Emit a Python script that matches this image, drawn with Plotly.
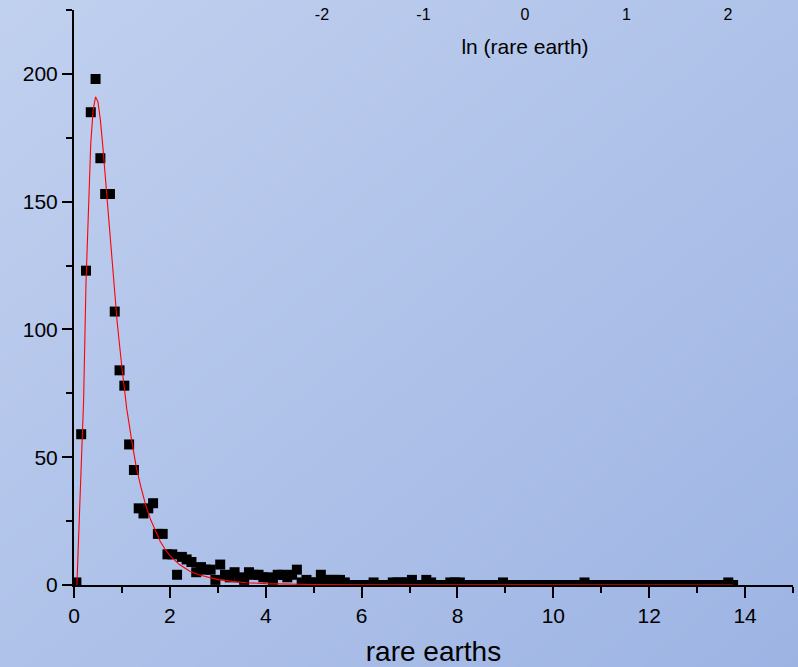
import plotly.graph_objects as go

# ---- data ----
bin_x = [round(0.05 + 0.1 * i, 2) for i in range(138)]
counts = [
    1, 59, 123, 185, 198, 167, 153, 153, 107, 84,
    78, 55, 45, 30, 28, 30, 32, 20, 20, 12,
    12, 4, 11, 10, 9, 5, 7, 6, 6, 2,
    8, 4, 3, 5, 3, 2, 5, 4, 4, 3,
    3, 2, 4, 4, 3, 4, 6, 1, 2, 1,
    1, 4, 2, 2, 2, 2, 1, 0, 0, 0,
    0, 0, 1, 0, 0, 0, 1, 1, 1, 1,
    2, 0, 0, 2, 1, 0, 0, 0, 1, 1,
    1, 0, 0, 0, 0, 0, 0, 0, 0, 1,
    0, 0, 0, 0, 0, 0, 0, 0, 0, 0,
    0, 0, 0, 0, 0, 0, 1, 0, 0, 0,
    0, 0, 0, 0, 0, 0, 0, 0, 0, 0,
    0, 0, 0, 0, 0, 0, 0, 0, 0, 0,
    0, 0, 0, 0, 0, 0, 1, 0,
]

fit_x = [0.06, 0.1, 0.15, 0.2, 0.25, 0.3, 0.35, 0.4, 0.45, 0.5, 0.55, 0.6,
         0.7, 0.8, 0.9, 1.0, 1.1, 1.2, 1.3, 1.4, 1.5, 1.6, 1.7, 1.8, 1.9,
         2.0, 2.2, 2.4, 2.6, 2.8, 3.0, 3.3, 3.6, 4.0, 4.5, 5.0, 6.0, 7.0,
         8.0, 10.0, 12.0, 13.75]
fit_y = [0, 20, 44, 72, 118, 150, 173, 186, 191, 189, 182, 172,
         148, 124, 103, 85, 69, 57, 46, 38, 31, 25.5, 21, 17, 14,
         11.5, 8, 5.6, 4, 2.9, 2.1, 1.4, 0.9, 0.55, 0.3, 0.17, 0.06, 0.02,
         0.01, 0, 0, 0]

x_ticks = [0, 2, 4, 6, 8, 10, 12, 14]
y_ticks = [0, 50, 100, 150, 200]
ln_ticks = [-2, -1, 0, 1, 2]
ln_labels = ["-2", "-1", "0", "1", "2"]

# background gradient (top-left light -> bottom-right darker)
bg_x = [-0.2, 1.2]
bg_y = [-0.2, 1.2]
bg_z = [[1.0, 2.0], [0.0, 1.0]]

W, H = 798, 667
FONT = "Liberation Sans, Arial, sans-serif"

def px_x(p):
    return p / W

def px_y(p):
    return 1 - p / H

fig = go.Figure()

fig.add_trace(go.Heatmap(
    z=bg_z, x=bg_x, y=bg_y, xaxis="x", yaxis="y",
    colorscale=[[0, "#c8d6f1"], [1, "#96aee1"]],
    showscale=False, zsmooth="best", hoverinfo="skip",
))

fig.add_trace(go.Scatter(
    x=bin_x, y=counts, mode="markers", xaxis="x2", yaxis="y2",
    marker=dict(symbol="square", size=10, color="black", line=dict(width=0)),
    showlegend=False,
))

fig.add_trace(go.Scatter(
    x=fit_x, y=fit_y, mode="lines", xaxis="x2", yaxis="y2",
    line=dict(color="red", width=1.1), showlegend=False,
))

fig.add_trace(go.Scatter(
    x=[], y=[], xaxis="x3", yaxis="y2", showlegend=False,
))

fig.update_layout(
    width=W, height=H, autosize=False,
    margin=dict(l=0, r=0, t=0, b=0, pad=0),
    paper_bgcolor="#b0c4ea",
    plot_bgcolor="rgba(0,0,0,0)",
    font=dict(family=FONT, color="black"),
    xaxis=dict(domain=[0, 1], range=[0, 1], visible=False, fixedrange=True),
    yaxis=dict(domain=[0, 1], range=[0, 1], visible=False, fixedrange=True),
    xaxis2=dict(
        domain=[px_x(74), px_x(793)], range=[0, 15], anchor="y2",
        automargin=False,
        showline=True, linecolor="black", linewidth=2,
        showgrid=False, zeroline=False,
        tickmode="array", tickvals=x_ticks,
        ticks="outside", ticklen=11, tickwidth=2, tickcolor="black",
        minor=dict(dtick=1, tick0=0, ticks="outside", ticklen=6, tickwidth=2,
                   tickcolor="black", showgrid=False),
        tickfont=dict(size=21),
        title=dict(text="rare earths", font=dict(size=28), standoff=19),
    ),
    yaxis2=dict(
        domain=[px_y(585), px_y(10)], range=[0, 225], anchor="x2",
        automargin=False,
        showline=True, linecolor="black", linewidth=2,
        showgrid=False, zeroline=False,
        tickmode="array", tickvals=y_ticks,
        ticks="outside", ticklen=10, tickwidth=2, tickcolor="black",
        minor=dict(dtick=25, tick0=0, ticks="outside", ticklen=6, tickwidth=2,
                   tickcolor="black", showgrid=False),
        tickfont=dict(size=21),
    ),
    xaxis3=dict(
        domain=[px_x(257), px_x(793)], range=[-2.64, 2.64],
        anchor="free", position=px_y(3), side="bottom",
        automargin=False,
        showline=False, showgrid=False, zeroline=False, ticks="",
        tickmode="array", tickvals=ln_ticks, ticktext=ln_labels,
        tickfont=dict(size=16),
        title=dict(text="ln (rare earth)", font=dict(size=21), standoff=17),
    ),
)

fig.write_html("out.html")
